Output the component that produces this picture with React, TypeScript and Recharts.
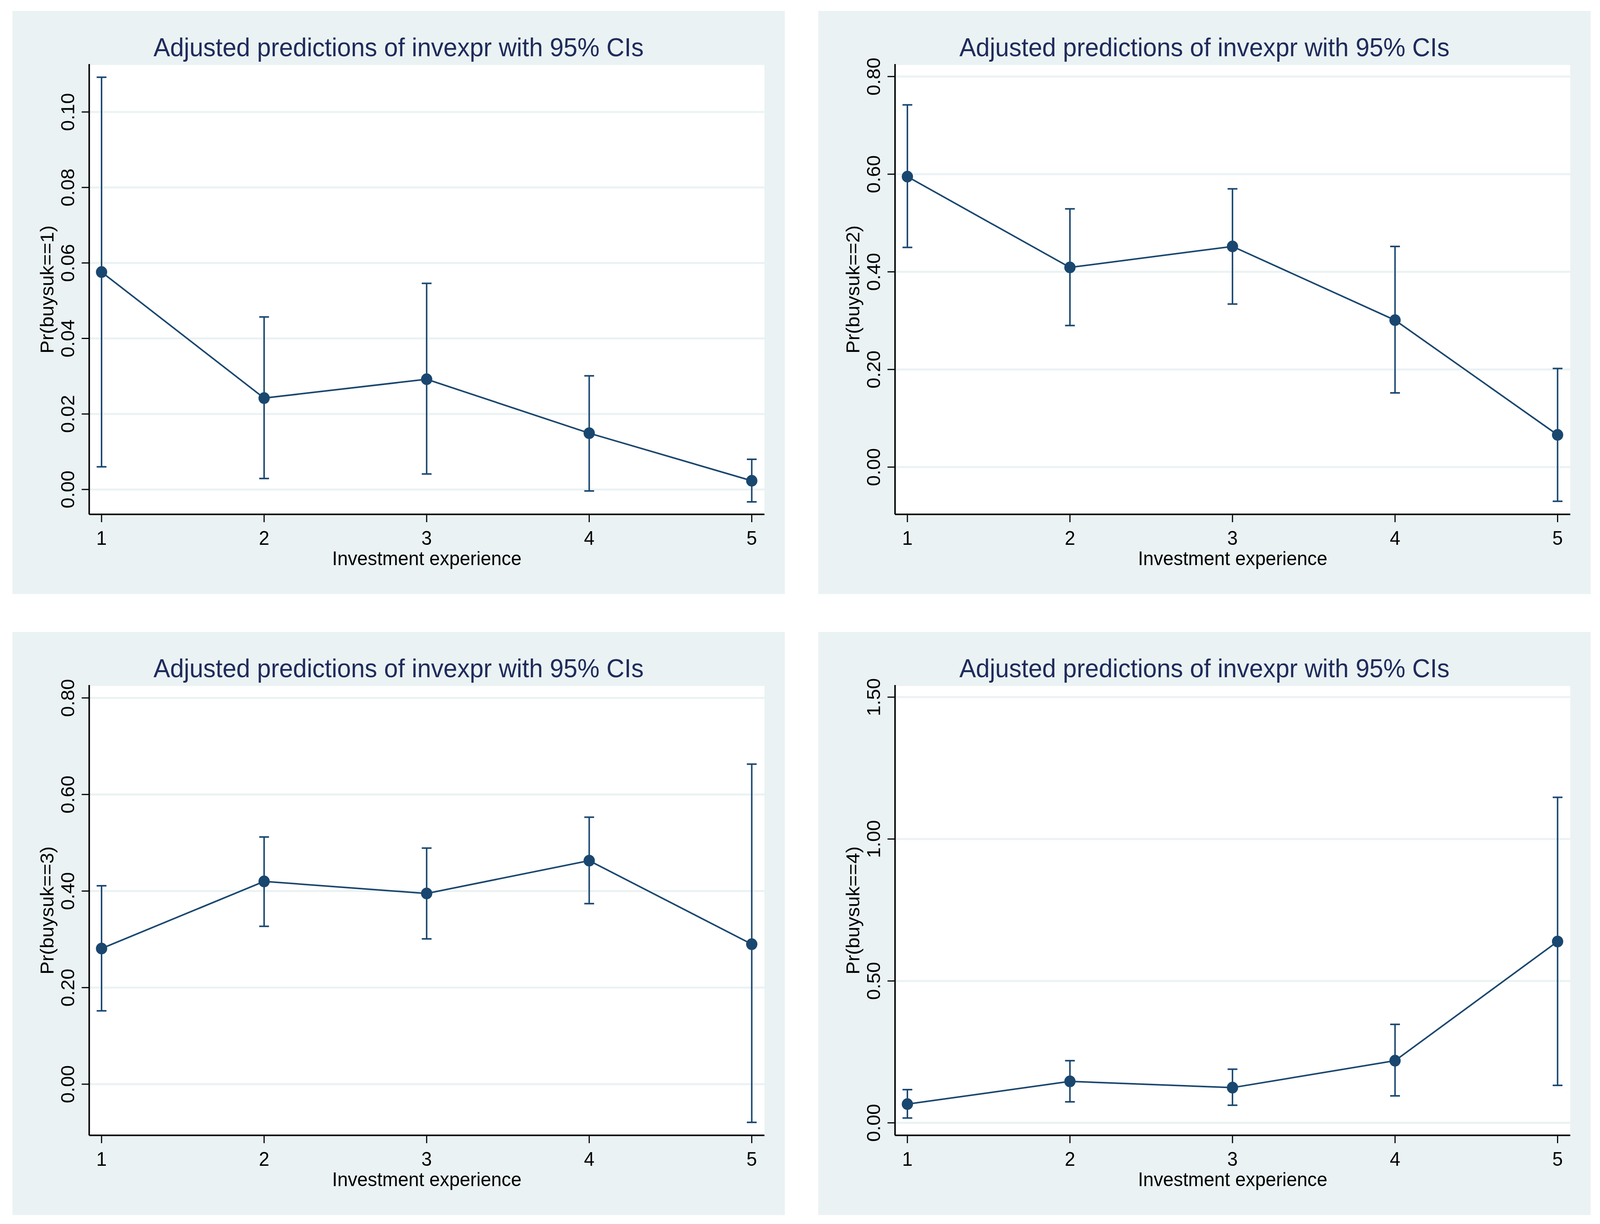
import React from 'react';
import { LineChart, Line, XAxis, YAxis, CartesianGrid, ErrorBar } from 'recharts';

// Investment experience levels (x axis)
const experience = [1, 2, 3, 4, 5];

// Pr(buysuk==1)
const pr1 = [0.0576, 0.0242, 0.0292, 0.0149, 0.0023];
const lo1 = [0.006, 0.0029, 0.0041, -0.0004, -0.0033];
const hi1 = [0.1092, 0.0457, 0.0546, 0.0301, 0.008];

// Pr(buysuk==2)
const pr2 = [0.595, 0.409, 0.452, 0.301, 0.066];
const lo2 = [0.45, 0.29, 0.334, 0.152, -0.07];
const hi2 = [0.742, 0.529, 0.57, 0.452, 0.202];

// Pr(buysuk==3)
const pr3 = [0.281, 0.42, 0.395, 0.463, 0.29];
const lo3 = [0.152, 0.327, 0.301, 0.374, -0.079];
const hi3 = [0.411, 0.512, 0.489, 0.553, 0.663];

// Pr(buysuk==4)
const pr4 = [0.066, 0.146, 0.124, 0.219, 0.639];
const lo4 = [0.017, 0.074, 0.062, 0.095, 0.132];
const hi4 = [0.117, 0.219, 0.189, 0.347, 1.147];

const ticks1 = [0, 0.02, 0.04, 0.06, 0.08, 0.1];
const ticks2 = [0, 0.2, 0.4, 0.6, 0.8];
const ticks3 = [0, 0.2, 0.4, 0.6, 0.8];
const ticks4 = [0, 0.5, 1, 1.5];

const TITLE = 'Adjusted predictions of invexpr with 95% CIs';
const X_TITLE = 'Investment experience';

const NAVY = '#1a476f';
const BG = '#eaf2f3';
const FONT = '"Liberation Sans", Arial, sans-serif';

const PAGE_W = 4251;
const PAGE_H = 3134;

const W = 2052;
const H = 1493;
const LEFT = 204;
const RIGHT = 54;
const TOP = 136;
const BOTTOM = 204;

const YTick = ({ x, y, payload }: any) => (
    <text
        x={x}
        y={y}
        transform={`rotate(-90 ${x} ${y})`}
        textAnchor="middle"
        fontSize={50}
        fontFamily={FONT}
        fill="#000"
    >
        {Number(payload.value).toFixed(2)}
    </text>
);

interface PanelProps {
    pr: number[];
    lo: number[];
    hi: number[];
    yLabel: string;
    domain: [number, number];
    ticks: number[];
    left: number;
    top: number;
}

const Panel = ({ pr, lo, hi, yLabel, domain, ticks, left, top }: PanelProps) => {
    const data = experience.map((x, i) => ({
        x,
        pr: pr[i],
        err: [pr[i] - lo[i], hi[i] - pr[i]],
    }));

    return (
        <div style={{ position: 'absolute', left, top, width: W, height: H, background: BG, fontFamily: FONT }}>
            <LineChart width={W} height={H} data={data} margin={{ top: TOP, right: RIGHT, bottom: 0, left: 0 }}>
                <CartesianGrid vertical={false} stroke={BG} strokeWidth={5} fill="#ffffff" fillOpacity={1} />
                <XAxis
                    type="number"
                    dataKey="x"
                    domain={[0.924, 5.078]}
                    ticks={experience}
                    allowDataOverflow
                    height={BOTTOM}
                    axisLine={{ stroke: '#000', strokeWidth: 4 }}
                    tickLine={{ stroke: '#000', strokeWidth: 3 }}
                    tickSize={20}
                    tickMargin={23}
                    tick={{ fontSize: 50, fill: '#000', fontFamily: FONT }}
                />
                <YAxis
                    type="number"
                    domain={domain}
                    ticks={ticks}
                    allowDataOverflow
                    width={LEFT}
                    axisLine={{ stroke: '#000', strokeWidth: 4 }}
                    tickLine={{ stroke: '#000', strokeWidth: 3 }}
                    tickSize={20}
                    tickMargin={20}
                    tick={<YTick />}
                />
                <Line
                    type="linear"
                    dataKey="pr"
                    stroke={NAVY}
                    strokeWidth={4}
                    dot={{ r: 15, fill: NAVY, stroke: NAVY, strokeWidth: 0 }}
                    activeDot={false}
                    isAnimationActive={false}
                >
                    <ErrorBar dataKey="err" direction="y" width={13} stroke={NAVY} strokeWidth={4} isAnimationActive={false} />
                </Line>
            </LineChart>
            <div
                style={{
                    position: 'absolute', left: 0, top: 60, width: W, textAlign: 'center',
                    fontSize: 66, lineHeight: '66px', color: '#1f2b5b', whiteSpace: 'nowrap',
                }}
            >
                {TITLE}
            </div>
            <div
                style={{
                    position: 'absolute', left: LEFT, top: 1377, width: W - LEFT - RIGHT, textAlign: 'center',
                    fontSize: 50, lineHeight: '50px', color: '#000', whiteSpace: 'nowrap',
                }}
            >
                {X_TITLE}
            </div>
            <div
                style={{
                    position: 'absolute', left: 92 - 300, top: (TOP + H - BOTTOM) / 2 - 30, width: 600, height: 60,
                    textAlign: 'center', fontSize: 50, lineHeight: '60px', color: '#000', whiteSpace: 'nowrap',
                    transform: 'rotate(-90deg)',
                }}
            >
                {yLabel}
            </div>
        </div>
    );
};

export default function App() {
    // fit the page into whatever viewport we actually get
    const vw = typeof window !== 'undefined' && window.innerWidth ? window.innerWidth : PAGE_W;
    const vh = typeof window !== 'undefined' && window.innerHeight ? window.innerHeight : PAGE_H;
    const sx = Math.min(1, vw / PAGE_W);
    const sy = Math.min(1, vh / PAGE_H);

    return (
        <div style={{ position: 'fixed', left: 0, top: 0, width: '100vw', height: '100vh', overflow: 'hidden', background: '#ffffff' }}>
            <div
                style={{
                    position: 'absolute', left: 0, top: 0, width: PAGE_W, height: PAGE_H, background: '#ffffff',
                    transform: `scale(${sx}, ${sy})`, transformOrigin: '0 0',
                }}
            >
                <Panel pr={pr1} lo={lo1} hi={hi1} yLabel="Pr(buysuk==1)" domain={[-0.0066, 0.1127]} ticks={ticks1} left={33} top={28} />
                <Panel pr={pr2} lo={lo2} hi={hi2} yLabel="Pr(buysuk==2)" domain={[-0.0968, 0.8256]} ticks={ticks2} left={2174} top={28} />
                <Panel pr={pr3} lo={lo3} hi={hi3} yLabel="Pr(buysuk==3)" domain={[-0.1059, 0.8267]} ticks={ticks3} left={33} top={1618} />
                <Panel pr={pr4} lo={lo4} hi={hi4} yLabel="Pr(buysuk==4)" domain={[-0.0441, 1.5427]} ticks={ticks4} left={2174} top={1618} />
            </div>
        </div>
    );
}
